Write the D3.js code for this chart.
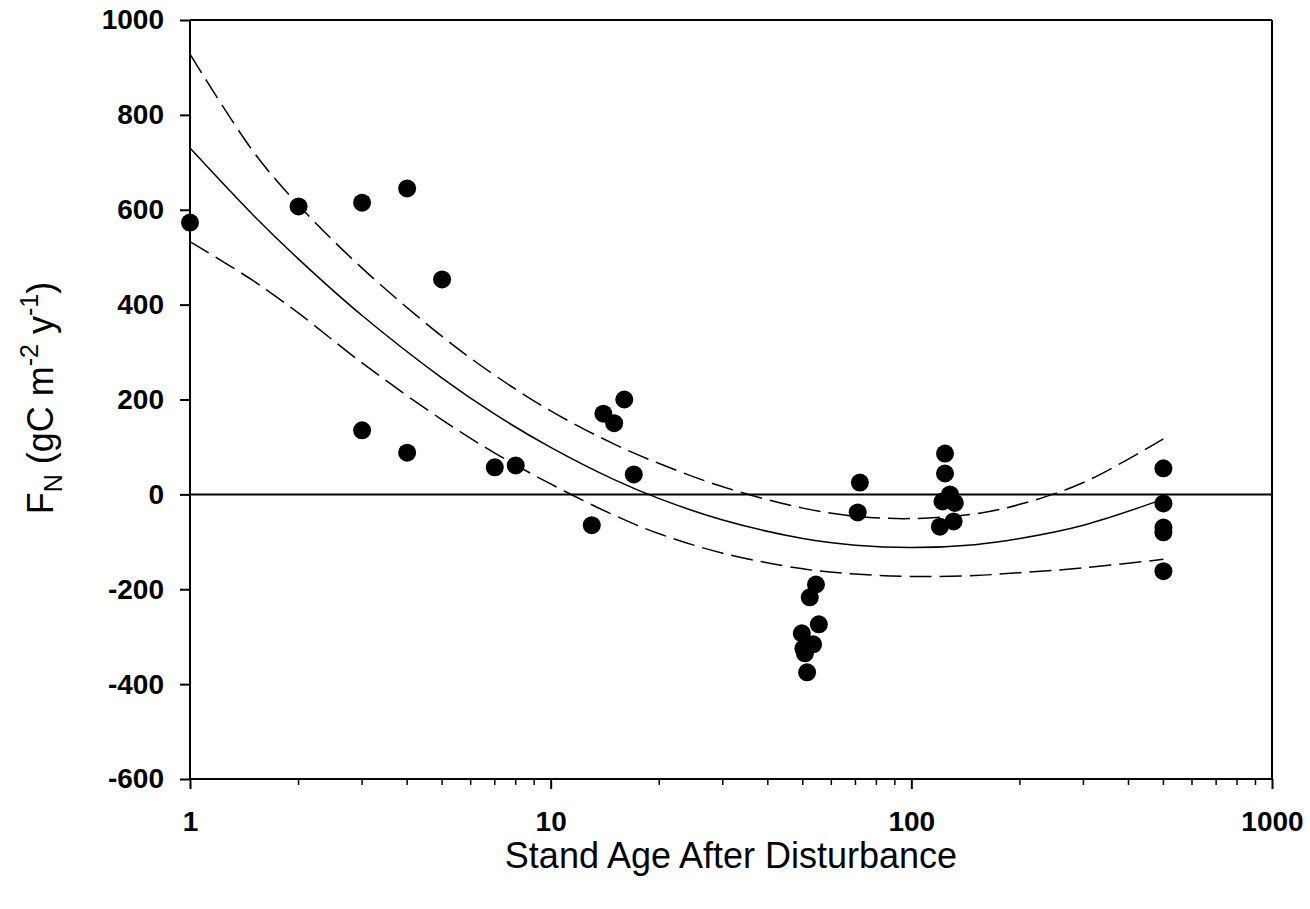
<!DOCTYPE html>
<html><head><meta charset="utf-8">
<script src="https://cdn.jsdelivr.net/npm/d3@7"></script>
<style>body{margin:0;background:#fff;} text{font-family:"Liberation Sans",Arial,sans-serif;}</style>
</head><body>
<svg id="c" width="1310" height="909"></svg>
<script>
// Observations
const ageX = [1,2,3,4,5,3,4,7,8,13,14,15,16,17,
  54.4,52.3,55.4,49.7,53.4,50.7,51.4,50.2,
  72,71,
  124,124,120,128,122,132,131,
  500,500,500,500,500];
const fluxY = [573,607,615,645,453,135,88,57,61,-65,170,150,200,42,
  -190,-217,-274,-293,-316,-335,-375,-325,
  25,-38,
  86,44,-68,0,-15,-18,-57,
  55,-19,-70,-80,-162];
// Fitted curve and confidence band
const curveX = [1,1.5,2,3,5,7,10,15,20,30,50,70,100,150,200,300,500];
const fitY   = [730,588,496,377,245,169,99,31,-9,-54,-93,-107,-112,-106,-93,-65,-10];
const upperY = [928,722,610,477,333,251,176,106,65,16,-29,-46,-51,-41,-21,25,117];
const lowerY = [533,450,382,277,157,87,22,-44,-83,-124,-157,-168,-173,-171,-165,-155,-137];
const xTicks = [1,10,100,1000];
const yTicks = [-600,-400,-200,0,200,400,600,800,1000];

const svg = d3.select("#c");
const L=190,R=1272,T=20,B=779;
const x = d3.scaleLog().domain([1,1000]).range([L,R]);
const y = d3.scaleLinear().domain([-600,1000]).range([B,T]);
const fmt = d => String(d);

// frame
svg.append("line").attr("x1",L).attr("x2",R).attr("y1",T).attr("y2",T).attr("stroke","#000").attr("stroke-width",2);
svg.append("line").attr("x1",R).attr("x2",R).attr("y1",T).attr("y2",B).attr("stroke","#000").attr("stroke-width",2);

// zero line
svg.append("line").attr("x1",L).attr("x2",R).attr("y1",y(0)).attr("y2",y(0)).attr("stroke","#000").attr("stroke-width",2);

// curves
const line = (ys)=>d3.line().x((d,i)=>x(curveX[i])).y(d=>y(d)).curve(d3.curveCatmullRom)(ys);
svg.append("path").attr("d",line(fitY)).attr("fill","none").attr("stroke","#000").attr("stroke-width",1.5);
[upperY,lowerY].forEach(ys=>svg.append("path").attr("d",line(ys)).attr("fill","none").attr("stroke","#000").attr("stroke-width",1.5).attr("stroke-dasharray","22,8"));

// points
svg.append("g").selectAll("circle").data(ageX).join("circle")
  .attr("cx",d=>x(d)).attr("cy",(d,i)=>y(fluxY[i])).attr("r",9).attr("fill","#000");

// y axis
const ya = svg.append("g").attr("transform",`translate(${L},0)`)
  .call(d3.axisLeft(y).tickValues(yTicks).tickSize(10).tickPadding(16).tickFormat(fmt));
ya.select(".domain").attr("stroke-width",2).attr("d",`M0,${T}V${B}`);
ya.selectAll(".tick line").attr("stroke-width",2);
ya.selectAll("text").attr("font-size",28).attr("font-weight","bold").attr("font-family","Liberation Sans, Arial, sans-serif");

// x axis
const minor=[];
for (let p=0;p<3;p++) for(let k=2;k<=9;k++) minor.push(k*Math.pow(10,p));
const xa = svg.append("g").attr("transform",`translate(0,${B})`)
  .call(d3.axisBottom(x).tickValues(xTicks).tickSize(10).tickPadding(22).tickFormat(fmt));
xa.select(".domain").attr("stroke-width",2).attr("d",`M${L},0H${R}`);
xa.selectAll(".tick line").attr("stroke-width",2);
xa.selectAll("text").attr("font-size",28).attr("font-weight","bold").attr("font-family","Liberation Sans, Arial, sans-serif");
svg.append("g").attr("transform",`translate(0,${B})`).selectAll("line").data(minor).join("line")
  .attr("x1",d=>x(d)).attr("x2",d=>x(d)).attr("y1",0).attr("y2",6).attr("stroke","#000").attr("stroke-width",1.5);

// titles
svg.append("text").attr("x",(L+R)/2).attr("y",868).attr("text-anchor","middle").attr("font-size",36).text("Stand Age After Disturbance");
const yt = svg.append("text").attr("transform",`translate(53,398) rotate(-90)`).attr("text-anchor","middle").attr("font-size",36);
yt.append("tspan").text("F");
yt.append("tspan").attr("font-size",25).attr("baseline-shift","-0.35em").text("N");
yt.append("tspan").text(" (gC m");
yt.append("tspan").attr("font-size",25).attr("baseline-shift","0.6em").text("-2");
yt.append("tspan").text(" y");
yt.append("tspan").attr("font-size",25).attr("baseline-shift","0.6em").text("-1");
yt.append("tspan").text(")");
</script>
</body></html>
